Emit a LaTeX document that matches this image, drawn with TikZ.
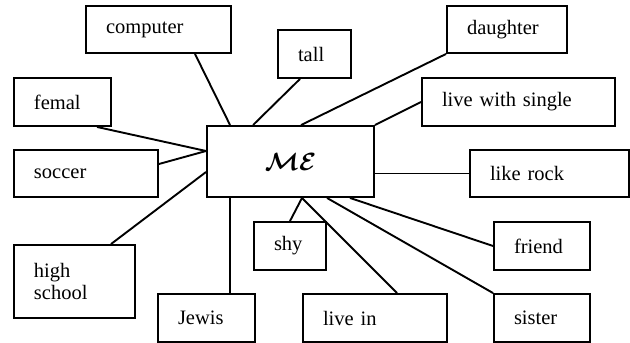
\documentclass[tikz,border=0pt]{standalone}
\usepackage{amsfonts, amssymb, amsmath}
\usepackage{fontspec}
\setmainfont{Liberation Serif}
\usepackage{tikz}
\usetikzlibrary{calc}
\tikzset{box/.style={draw,line width=1.9pt,inner xsep=20pt,inner ysep=2pt,align=left,font=\fontsize{20.5}{22}\selectfont}}
\tikzset{mebox/.style={draw,line width=1.9pt,minimum width=167pt,minimum height=71pt,font=\fontsize{38}{38}\selectfont}}
\tikzset{link/.style={line width=1.9pt}}

\begin{document}
\begin{tikzpicture}[x=1pt,y=-1pt]
            \useasboundingbox (0,0) rectangle (630,343);
            \node[mebox] (me) at (290.5,161.5) {$\boldsymbol{\mathcal{ME}}$};
            \node[box,text width=105pt,minimum height=47pt] (computer) at (158.5,29.5) {computer};
            \node[box,text width=33pt,minimum height=48pt] (tall) at (314.5,54) {tall};
            \node[box,text width=80pt,minimum height=47pt] (daughter) at (507,29.5) {daughter};
            \node[box,text width=153pt,minimum height=48pt] (single) at (518.5,102) {live with single};
            \node[box,text width=57pt,minimum height=48pt] (femal) at (62.5,102) {femal};
            \node[box,text width=104pt,minimum height=47pt] (soccer) at (86,173.5) {soccer};
            \node[box,text width=119pt,minimum height=47pt] (rock) at (549.5,173.5) {like rock};
            \node[box,text width=81pt,minimum height=73pt] (school) at (74.5,281.5) {high\\school};
            \node[box,text width=57pt,minimum height=48pt] (jewis) at (206.5,318) {Jewis};
            \node[box,text width=32pt,minimum height=48pt] (shy) at (290,246) {shy};
            \node[box,text width=104pt,minimum height=48pt] (livein) at (375,318) {live in};
            \node[box,text width=56pt,minimum height=48pt] (friend) at (542,246) {friend};
            \node[box,text width=56pt,minimum height=48pt] (sister) at (542,318) {sister};
            \draw[link] ([xshift=36.5pt]computer.south) -- ([xshift=24pt]me.north west);
            \draw[link] ([xshift=-14.5pt]tall.south) -- ([xshift=47pt]me.north west);
            \draw[link] (daughter.south west) -- ([xshift=95pt]me.north west);
            \draw[link] (single.west) -- (me.north east);
            \draw[link] (rock.west) -- (rock.west -| me.east);
            \draw[link] ([xshift=34.5pt]femal.south) -- ([yshift=10.5pt]me.west);
            \draw[link] ([yshift=9.5pt]soccer.east) -- ([yshift=10.5pt]me.west);
            \draw[link] ([xshift=36.5pt]school.north) -- ([yshift=-10.5pt]me.west);
            \draw[link] ([xshift=23.5pt]jewis.north) -- ([xshift=23.5pt]jewis.north |- me.south);
            \draw[link] (shy.north) -- ([xshift=11.5pt]me.south);
            \draw[link] ([xshift=22pt]livein.north) -- ([xshift=11.5pt]me.south);
            \draw[link] (sister.north west) -- ([xshift=36.5pt]me.south);
            \draw[link] (friend.west) -- ([xshift=59.5pt]me.south);
          \end{tikzpicture}
\end{document}
